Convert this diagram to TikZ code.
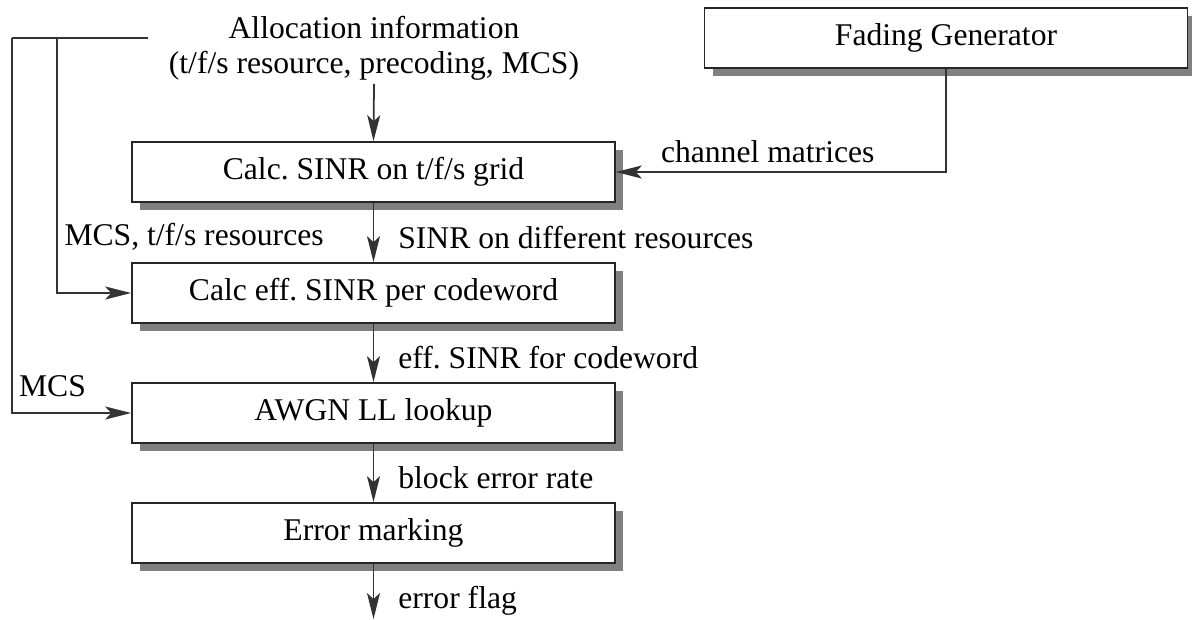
\documentclass[tikz,border=0pt]{standalone}
\usepackage{fontspec}
\setmainfont{Liberation Serif}
\usetikzlibrary{%
  arrows.meta,%
  shadows%
}

\tikzset{
  blk/.style={draw=black!85, line width=1pt, fill=white,
    minimum width=9.66cm, minimum height=1.2cm, inner sep=0pt,
    drop shadow={shadow xshift=0.16cm, shadow yshift=-0.16cm,
      fill=black!50, opacity=1}},
  wire/.style={draw=black!80, line width=1pt},
  flow/.style={wire, -{Stealth[length=0.52cm,width=0.26cm,inset=0.12cm]}},
  lbl/.style={inner sep=0pt}
}

\begin{document}
\begin{tikzpicture}[x=0.02cm,y=-0.02cm,font=\fontsize{18}{20}\selectfont]

  \useasboundingbox (0,0) rectangle (1192,619);

  %% blocks
  \node[blk] (sinr) at (373.5,172) {Calc.\ SINR on t/f/s grid};
  \node[blk] (effsinr) at (373.5,293) {Calc eff.\ SINR per codeword};
  \node[blk] (awgn) at (373.5,413) {AWGN LL lookup};
  \node[blk] (errmark) at (373.5,533) {Error marking};
  \node[blk] (fading) at (946,38) {Fading Generator};

  %% input text
  \node[align=center, inner sep=2pt] (alloc) at (374,48)
    {Allocation information\\(t/f/s resource, precoding, MCS)};

  %% free ends
  \coordinate (topend) at (148,38);
  \coordinate (mcsA) at (12,38);
  \coordinate (mcsB) at (57,38);
  \coordinate (out) at (373.5,619);

  %% main chain
  \draw[flow] (alloc.south) -- (sinr.north);
  \draw[flow] (sinr) --
    node[lbl, pos=0.58, anchor=west, xshift=0.48cm] {SINR on different resources}
    node[lbl, pos=0.58, anchor=east, xshift=-0.98cm] {MCS, t/f/s resources}
    (effsinr);
  \draw[flow] (effsinr) --
    node[lbl, pos=0.575, anchor=west, xshift=0.48cm] {eff.\ SINR for codeword}
    (awgn);
  \draw[flow] (awgn) --
    node[lbl, pos=0.575, anchor=west, xshift=0.48cm] {block error rate}
    (errmark);
  \draw[flow] (errmark) --
    node[lbl, pos=0.67, anchor=west, xshift=0.48cm] {error flag}
    (out);

  %% channel
  \draw[flow] (fading.south) |-
    node[lbl, pos=0.77, above=0.16cm] {channel matrices} (sinr.east);

  %% side feeds
  \draw[wire] (topend) -- (mcsA);
  \draw[flow] (mcsA) |- node[lbl, pos=0.67, above=0.3cm] {MCS} (awgn.west);
  \draw[flow] (mcsB) |- (effsinr.west);

\end{tikzpicture}
\end{document}
